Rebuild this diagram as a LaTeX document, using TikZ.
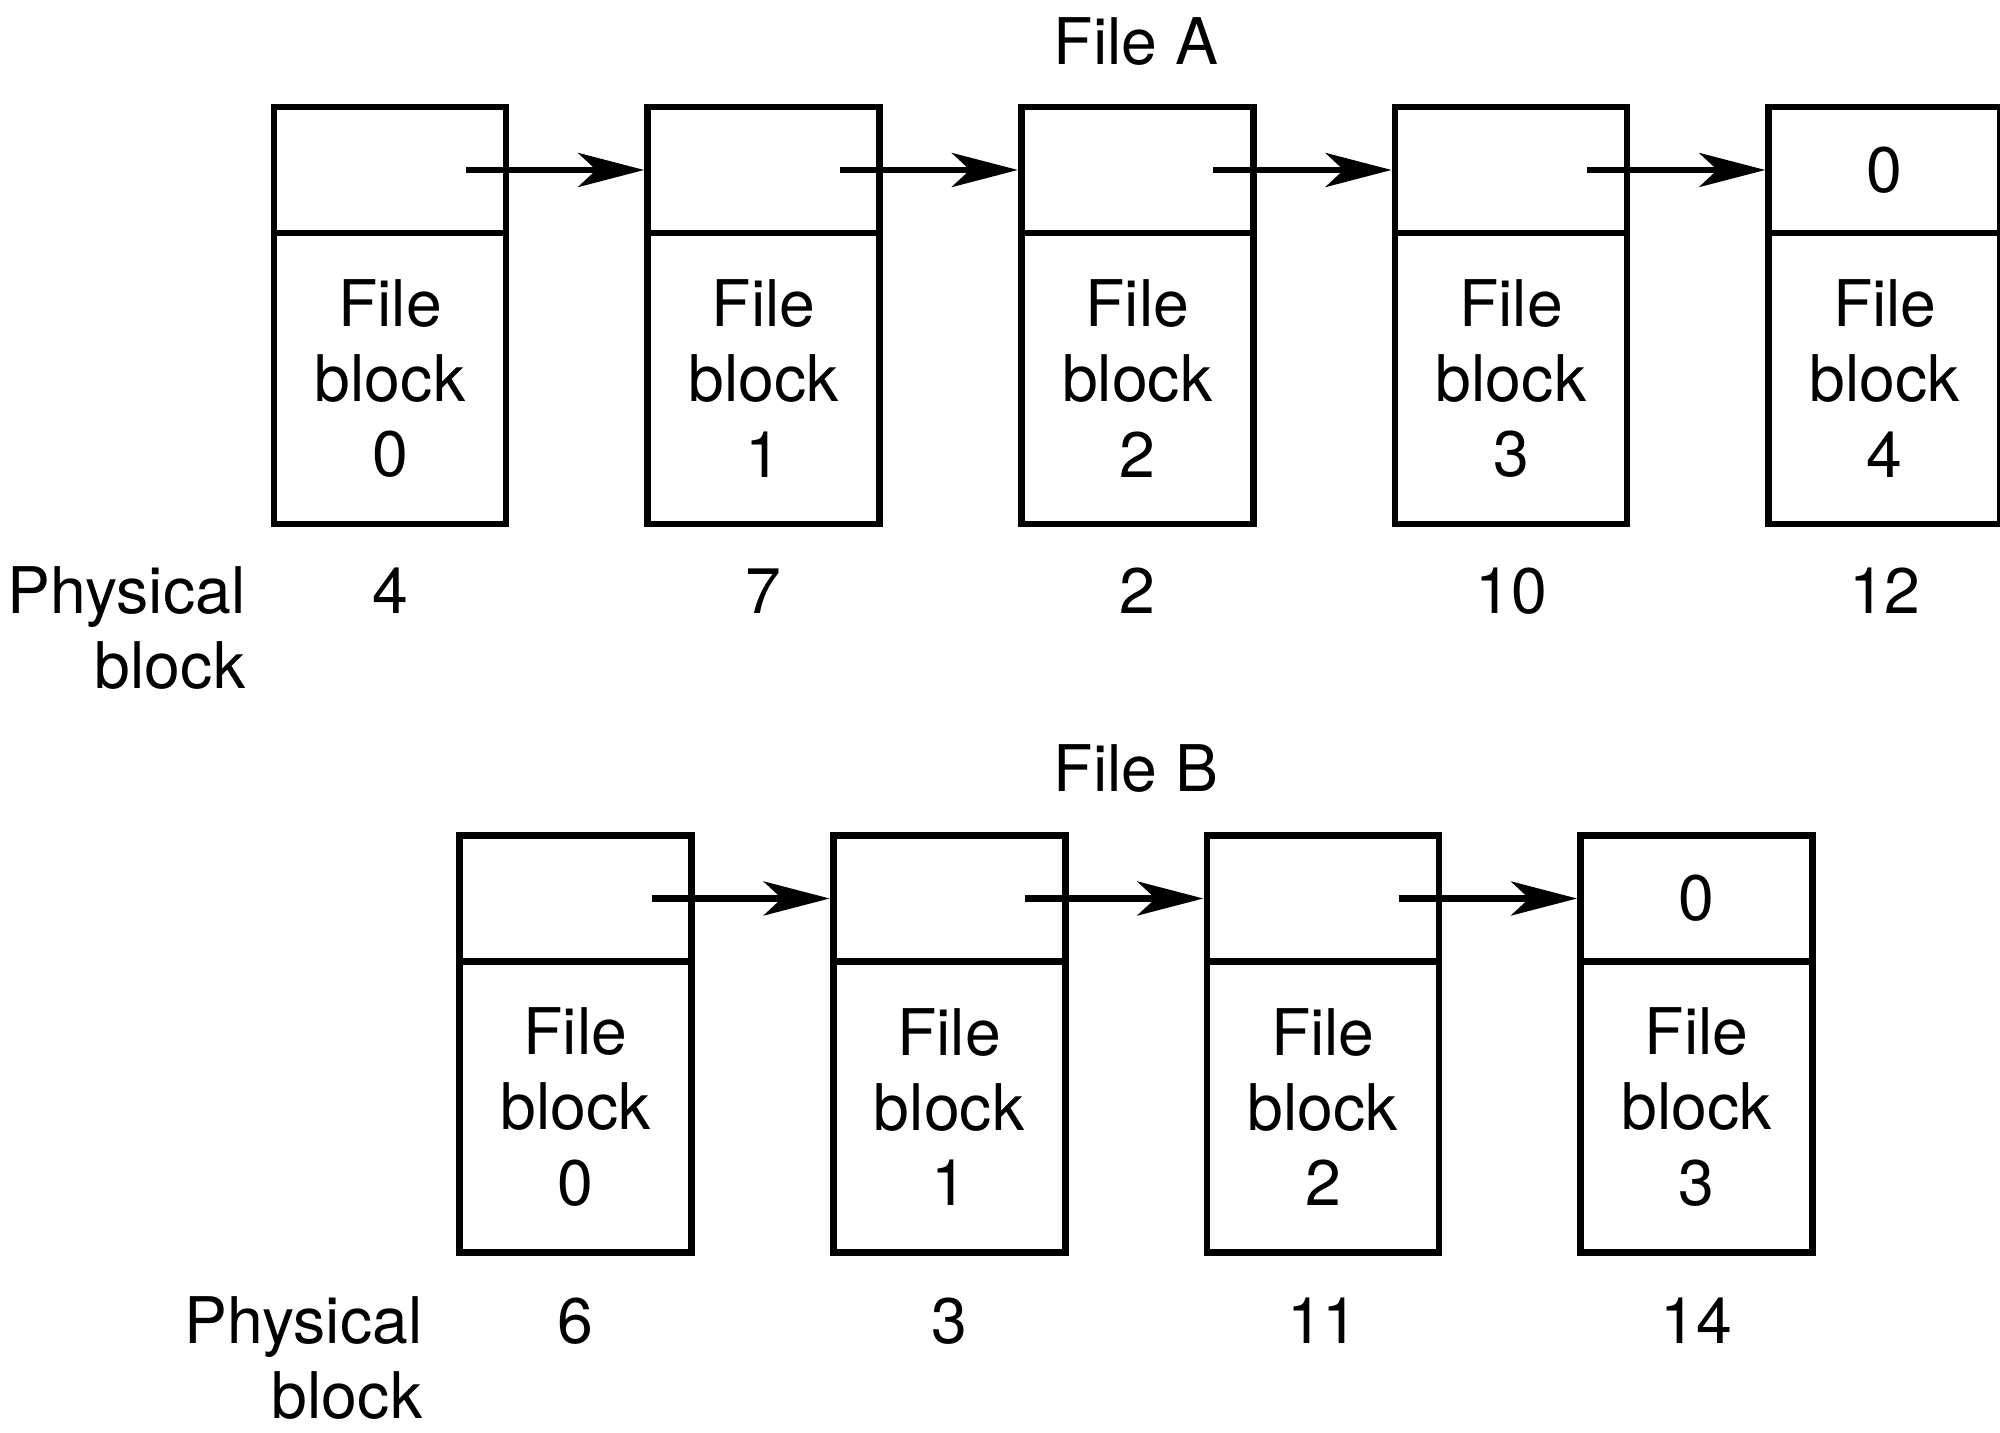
\documentclass[tikz,border=0pt]{standalone}
\usepackage{fontspec}
\setmainfont{TeX Gyre Heros}
\usetikzlibrary{arrows.meta,positioning}

\begin{document}
\begin{tikzpicture}[
  font=\fontsize{18.3}{21.4}\selectfont,
  cell/.style={draw, line width=1.9pt, minimum width=2.32cm, inner sep=0pt, outer sep=0pt, align=center},
  ptrcell/.style={cell, minimum height=1.26cm},
  datacell/.style={cell, minimum height=2.91cm},
  ptr/.style={line width=1.9pt, shorten >=1pt, -{Stealth[length=6.6mm, width=3.4mm, inset=1.8mm]}},
  num/.style={anchor=base, inner sep=0pt},
  side/.style={anchor=base east, align=right, inner sep=0pt}
]
\useasboundingbox (0,0) rectangle (20,-14.33);

% File A
\node[num] (fileA) at (11.36,-0.65) {File A};
\foreach \i/\p/\z in {0/4/{},1/7/{},2/2/{},3/10/{},4/12/0} {
  \node[ptrcell] (atop\i) at ({3.90+3.737*\i},-1.70) {\z};
  \node[datacell, below=0pt of atop\i] (adata\i) {File\\block\\\i};
  \node[num] (anum\i) at ({3.90+3.737*\i},-6.14) {\p};
}
\foreach \i [evaluate=\i as \j using int(\i+1)] in {0,...,3} {
  \coordinate (ap\i) at ([xshift=-4mm]atop\i.east);
  \draw[ptr] (ap\i) -- (atop\j.west);
}
\node[side] (aphys) at (2.46,-6.89) {Physical\\block};

% File B
\node[num] (fileB) at (11.36,-7.92) {File B};
\foreach \i/\p/\z in {0/6/{},1/3/{},2/11/{},3/14/0} {
  \node[ptrcell] (btop\i) at ({5.755+3.737*\i},-8.985) {\z};
  \node[datacell, below=0pt of btop\i] (bdata\i) {File\\block\\\i};
  \node[num] (bnum\i) at ({5.755+3.737*\i},-13.44) {\p};
}
\foreach \i [evaluate=\i as \j using int(\i+1)] in {0,...,2} {
  \coordinate (bp\i) at ([xshift=-4mm]btop\i.east);
  \draw[ptr] (bp\i) -- (btop\j.west);
}
\node[side] (bphys) at (4.23,-14.19) {Physical\\block};
\end{tikzpicture}
\end{document}
